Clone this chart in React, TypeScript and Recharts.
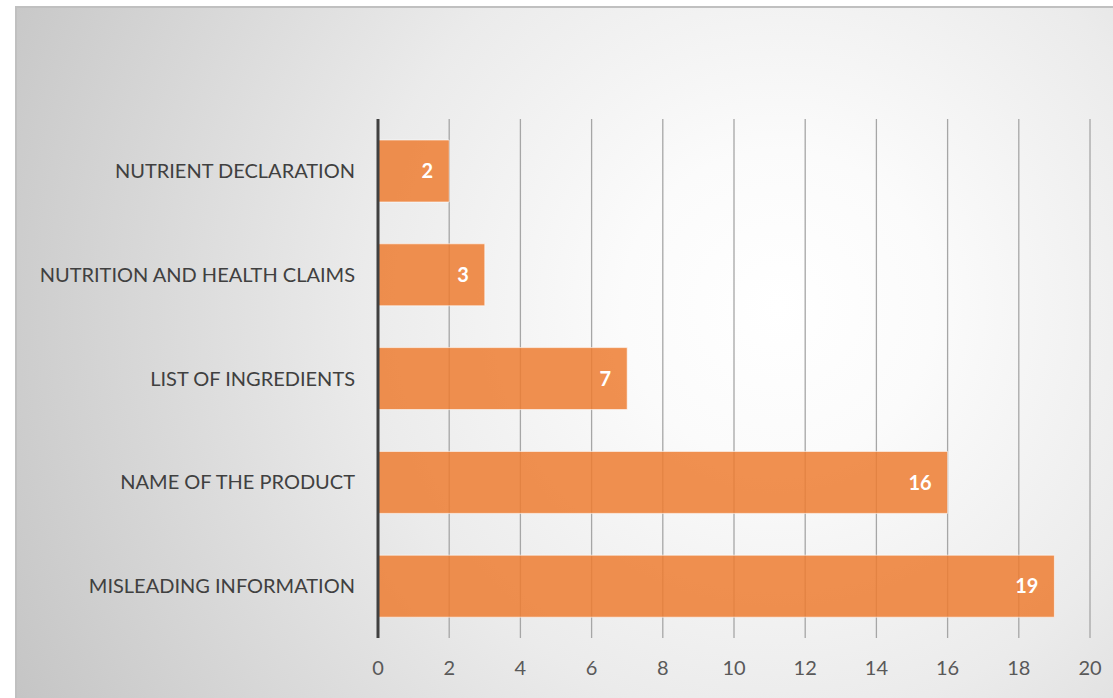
import { Bar, BarChart, CartesianGrid, LabelList, XAxis, YAxis } from "recharts";

const categories = [
  "NUTRIENT DECLARATION",
  "NUTRITION AND HEALTH CLAIMS",
  "LIST OF INGREDIENTS",
  "NAME OF THE PRODUCT",
  "MISLEADING INFORMATION",
];
const counts = [2, 3, 7, 16, 19];
const xTicks = [0, 2, 4, 6, 8, 10, 12, 14, 16, 18, 20];

const data = categories.map((name, i) => ({ name, value: counts[i] }));

const font = "Lato, 'Open Sans', sans-serif";

export default function App() {
  return (
    <div
      style={{
        position: "fixed",
        left: 0,
        top: 0,
        width: 1113,
        height: 698,
        overflow: "hidden",
        background: "#fff",
        fontFamily: font,
      }}
    >
      <div
        style={{
          position: "absolute",
          left: 15,
          top: 6,
          width: 1120,
          height: 710,
          borderTop: "2px solid #c0c0c0",
          borderLeft: "2px solid #c0c0c0",
          background:
            "radial-gradient(circle at 68% 42%, #ffffff 0%, #fbfbfb 18%, #ebebeb 48%, #c4c4c4 100%)",
        }}
      />
      <div style={{ position: "absolute", left: 0, top: 0 }}>
        <BarChart
          width={1113}
          height={698}
          data={data}
          layout="vertical"
          margin={{ top: 119, right: 23, bottom: 0, left: 0 }}
          barCategoryGap={21}
        >
          <CartesianGrid horizontal={false} stroke="#a6a6a6" strokeWidth={1.3} />
          <XAxis
            type="number"
            domain={[0, 20]}
            ticks={xTicks}
            interval={0}
            axisLine={false}
            tickLine={false}
            tickSize={0}
            tickMargin={23}
            height={60}
            tick={{ fill: "#595959", fontSize: 20, fontFamily: font }}
          />
          <YAxis
            type="category"
            dataKey="name"
            width={378}
            axisLine={{ stroke: "#404040", strokeWidth: 3 }}
            tickLine={false}
            tickSize={0}
            tickMargin={23}
            tick={{ fill: "#404040", fontSize: 20, fontFamily: font }}
          />
          <Bar
            dataKey="value"
            fill="#ED7D31"
            fillOpacity={0.85}
            stroke="#ffffff"
            strokeOpacity={0.6}
            strokeWidth={1}
            isAnimationActive={false}
          >
            <LabelList
              dataKey="value"
              position="insideRight"
              offset={16}
              fill="#ffffff"
              style={{ fontSize: 20, fontWeight: 700, fontFamily: font }}
            />
          </Bar>
        </BarChart>
      </div>
    </div>
  );
}
